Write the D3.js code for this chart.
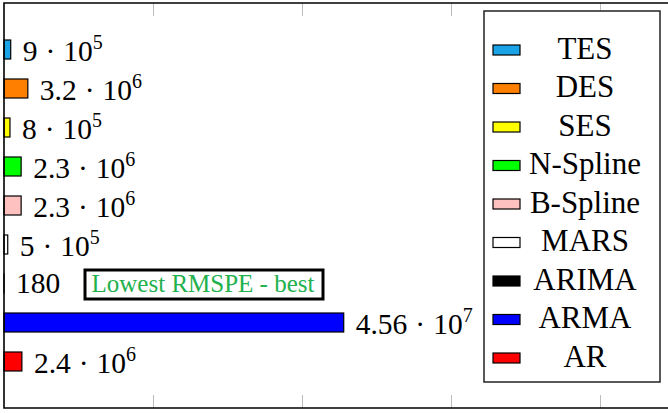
<!DOCTYPE html>
<html>
<head>
<meta charset="utf-8">
<script src="https://cdn.jsdelivr.net/npm/d3@7"></script>
<style>
  html, body { margin: 0; padding: 0; background: #fff; }
  svg { display: block; }
</style>
</head>
<body>
<svg id="chart" width="668" height="413"></svg>
<script>
// ---- data ----
const categories = ["TES", "DES", "SES", "N-Spline", "B-Spline", "MARS", "ARIMA", "ARMA", "AR"];
const values = [9e5, 3.2e6, 8e5, 2.3e6, 2.3e6, 5e5, 180, 4.56e7, 2.4e6];
const colors = ["#1aa3e6", "#ff8000", "#ffff00", "#00ff00", "#ffc0c0", "#ffffff", "#000000", "#0000ff", "#ff0000"];
const xTicks = [2e7, 4e7, 6e7, 8e7];
const annotation = "Lowest RMSPE - best";

(function () {
const SERIF = '"Liberation Serif"';
const svg = d3.select("#chart");
const W = 668;
const padL = 4, padT = 3, padB = 408;

const x = d3.scaleLinear().domain([0, 9e7]).range([padL, padL + 149 * 4.5]);
const y = d3.scalePoint().domain(categories).range([49.5, 361.5]);
const barH = 19;

// ticks
const tickStyle = g => {
  g.select(".domain").remove();
  g.selectAll(".tick line").attr("stroke", "#bdbdbd").attr("stroke-width", 1);
  g.selectAll(".tick text").remove();
};
svg.append("g").attr("transform", `translate(0,${padT})`)
  .call(d3.axisBottom(x).tickValues(xTicks).tickSize(13).tickFormat(""))
  .call(tickStyle);
svg.append("g").attr("transform", `translate(0,${padB})`)
  .call(d3.axisTop(x).tickValues(xTicks).tickSize(13).tickFormat(""))
  .call(tickStyle);

// bars
svg.append("g").selectAll("rect").data(categories).join("rect")
  .attr("x", x(0))
  .attr("y", d => y(d) - barH / 2)
  .attr("width", (d, i) => Math.max(0, x(values[i]) - x(0)))
  .attr("height", barH)
  .attr("fill", (d, i) => colors[i])
  .attr("stroke", "#000")
  .attr("stroke-width", 1.2);

// value labels
function parts(v) {
  if (v < 1e4) return { plain: String(v) };
  const e = Math.floor(Math.log10(v));
  const m = +(v / Math.pow(10, e)).toPrecision(3);
  return { m: String(m), e: String(e) };
}
const labels = svg.append("g").attr("fill", "#000");
categories.forEach((c, i) => {
  const p = parts(values[i]);
  const t = labels.append("text")
    .attr("x", x(values[i]) + 12)
    .attr("y", y(c) + (p.plain ? 9.5 : 11.5))
    .style("font-family", SERIF)
    .style("font-size", "29.5px");
  if (p.plain) { t.text(p.plain); return; }
  t.append("tspan").text(p.m);
  t.append("tspan").attr("dx", 8).text("\u00B7");
  t.append("tspan").attr("dx", 8).text("10");
  t.append("tspan").attr("dy", -12).style("font-size", "20px").text(p.e);
});

// annotation box
svg.append("rect").attr("x", 85).attr("y", 270).attr("width", 238).attr("height", 29)
  .attr("fill", "#fff").attr("stroke", "#000").attr("stroke-width", 3);
svg.append("text").attr("x", 203).attr("y", 292).attr("text-anchor", "middle")
  .style("font-family", SERIF).style("font-size", "25px")
  .attr("fill", "#22b14c").text(annotation);

// frame
svg.append("path")
  .attr("d", `M${W},${padT}H${padL}V${padB}H${W}`)
  .attr("fill", "none").attr("stroke", "#000").attr("stroke-width", 1.6);

// legend
const lg = svg.append("g");
lg.append("rect").attr("x", 484).attr("y", 11).attr("width", 176).attr("height", 371)
  .attr("fill", "#fff").attr("stroke", "#222").attr("stroke-width", 1.5);
const ly = d3.scalePoint().domain(categories).range([50, 358]);
categories.forEach((c, i) => {
  lg.append("rect").attr("x", 493).attr("y", ly(c) - 5).attr("width", 27).attr("height", 10)
    .attr("fill", colors[i]).attr("stroke", "#000").attr("stroke-width", 1.2);
  lg.append("text").attr("x", 585).attr("y", ly(c) + 8.7).attr("text-anchor", "middle")
    .style("font-family", SERIF).style("font-size", "31px")
    .attr("fill", "#000").text(c);
});
})();
</script>
</body>
</html>
